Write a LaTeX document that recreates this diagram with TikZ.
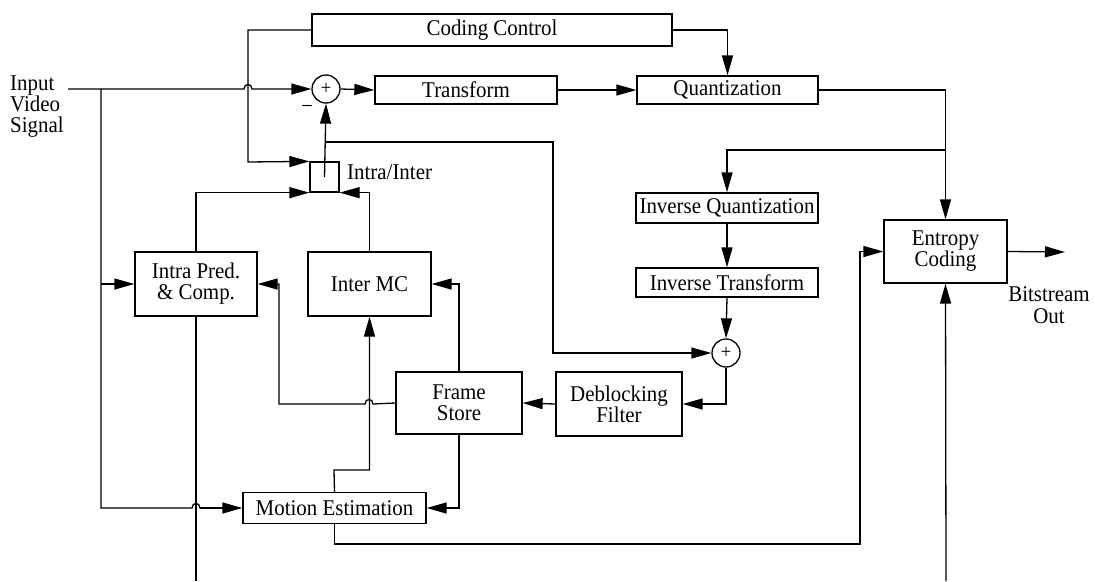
\documentclass[tikz,border=0pt]{standalone}
\usepackage{fontspec}
\setmainfont{Liberation Serif}[FakeStretch=0.93]
\usetikzlibrary{arrows.meta}
\begin{document}
\begin{tikzpicture}[x=1pt,y=-1pt,
  every node/.style={font=\fontsize{22.5}{21}\selectfont},
  box/.style={draw,line width=1.3pt,inner sep=0pt,align=center,fill=white},
  sumc/.style={draw,circle,line width=1.3pt,minimum size=28pt,inner sep=0pt,font=\fontsize{20}{20}\selectfont},
  wire/.style={line width=1.3pt},
  arr/.style={wire,-{Triangle[length=20pt,width=11pt]}},
  lbl/.style={inner sep=0pt,align=center}]
\useasboundingbox (0,0) rectangle (1095,581);
% nodes
\node[lbl,anchor=west,align=left,font=\fontsize{22.5}{21}\selectfont] (inlbl) at (10,107) {Input\\Video\\Signal};
\node[box,minimum width=360pt,minimum height=32pt] (cc) at (492,30) {Coding Control};
\node[sumc] (sum1) at (326,89) {+};
\node[lbl] (minus) at (307,109) {−};
\node[box,minimum width=182pt,minimum height=28pt] (tr) at (466,90) {Transform};
\node[box,minimum width=181pt,minimum height=28pt] (qu) at (727.5,90) {Quantization};
\node[box,minimum width=29pt,minimum height=30pt,fill=none] (mux) at (324.5,177) {};
\node[lbl,anchor=west] (mlbl) at (347,172) {Intra/Inter};
\node[box,minimum width=122pt,minimum height=64pt] (intra) at (196,284) {Intra Pred.\\\& Comp.};
\node[box,minimum width=123pt,minimum height=64pt] (inter) at (369.5,284) {Inter MC};
\node[box,minimum width=182pt,minimum height=30pt,fill=none] (iq) at (727,208) {Inverse Quantization};
\node[box,minimum width=182pt,minimum height=29pt] (it) at (727,282.5) {Inverse Transform};
\node[sumc] (sum2) at (726,353) {+};
\node[box,minimum width=126pt,minimum height=64pt] (db) at (619,404) {Deblocking\\Filter};
\node[box,minimum width=126pt,minimum height=62pt] (fs) at (459,403) {Frame\\Store};
\node[box,minimum width=183pt,minimum height=31pt] (me) at (334.5,508) {Motion Estimation};
\node[box,minimum width=123pt,minimum height=63pt] (ec) at (945.5,251.5) {Entropy\\Coding};
\node[lbl,font=\fontsize{22.5}{21.5}\selectfont] (bout) at (1049,305) {Bitstream\\Out};
% coordinates
\coordinate (inp) at (68,89);
\coordinate (j1) at (101,89);
\coordinate (muxc) at (324.5,177);
\coordinate (brA) at (324.5,142);
\coordinate (brB) at (946,150);
\coordinate (out) at (1065,252);
\coordinate (bot1) at (196,581);
\coordinate (bot2) at (946,581);
% connectors
\draw[arr] (inp) -- (244,89) .. controls (244,83) and (252,83) .. (252,89) -- (sum1.west);
\draw[wire] (j1) -- (101,508) -- (192,508) .. controls (192,502) and (200,502) .. (200,508) -- (220,508);
\draw[arr] (200,508) -- (me.west);
\draw[arr] (101,284) -- (intra.west);
\draw[arr] (sum1.east) -- (tr.west);
\draw[arr] (tr.east) -- (qu.west);
\draw[arr] (cc.east) -| (qu.north);
\draw[arr] (cc.west) -- (248,30) -- (248,162) -- (mux.north west);
\draw[arr] (muxc) -- (sum1.south);
\draw[arr] (brA) -- (553,142) -- (553,353) -- (sum2.west);
\draw[arr] (intra.north) |- (mux.south west);
\draw[arr] (inter.north) |- (mux.south east);
\draw[arr] (qu.east) -| (ec.north);
\draw[arr] (brB) -| (iq.north);
\draw[arr] (iq.south) -- (it.north);
\draw[arr] (it.south) -- (sum2.north);
\draw[arr] (sum2.south) |- (db.east);
\draw[arr] (db.west) -- (fs.east);
\draw[arr] (fs.west) -- (373,404) .. controls (373,398) and (365,398) .. (365,404) -- (279,404) |- (intra.east);
\draw[arr] (fs.north) |- (inter.east);
\draw[arr] (fs.south) |- (me.east);
\draw[arr] (me.north) -- (334,470) -| (inter.south);
\draw[arr] (me.south) |- (860,544) |- (ec.west);
\draw[arr] (ec.east) -- (out);
\draw[wire] (intra.south) -- (bot1);
\draw[arr] (bot2) -- (ec.south);
\end{tikzpicture}
\end{document}
